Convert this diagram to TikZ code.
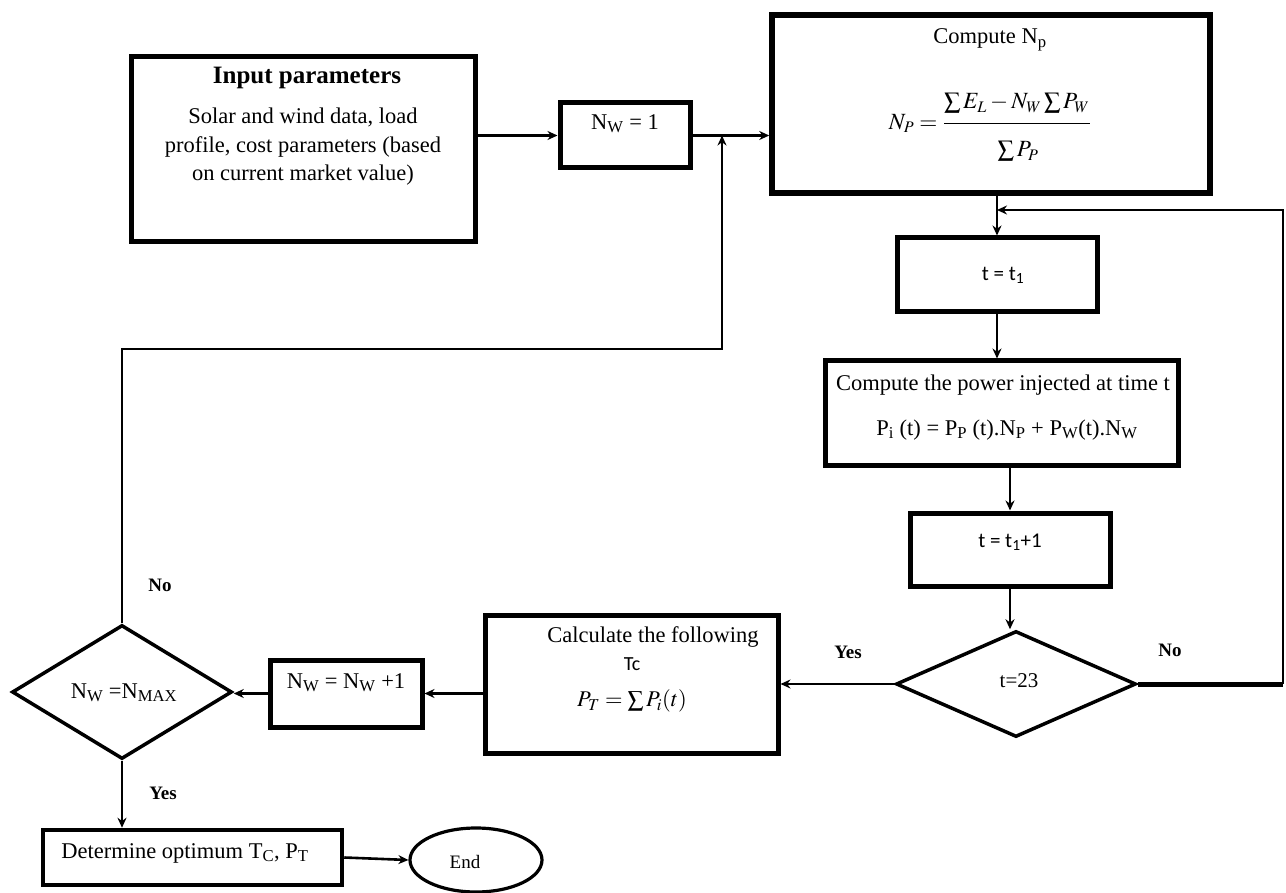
\documentclass[tikz,border=0pt]{standalone}
\usepackage{mathptmx}
\usepackage{graphicx}
\usepackage{fontspec}
\setmainfont{Liberation Serif}
\newfontfamily\calib{Carlito}
\usetikzlibrary{arrows.meta,shapes.geometric}
\begin{document}
\begin{tikzpicture}[x=1pt,y=-1pt,
  box/.style={draw, rectangle, line width=5pt, inner sep=0pt},
  dia/.style={draw, diamond, line width=3.5pt, inner sep=0pt},
  txt/.style={font=\fontsize{22.5}{28.5}\selectfont, inner sep=0pt},
  sans/.style={font=\calib\fontsize{21}{25}\selectfont, inner sep=0pt},
  lbl/.style={font=\bfseries\fontsize{19}{22}\selectfont, inner sep=0pt},
  conn/.style={line width=2.6pt, -{Stealth[length=10pt,width=9pt]}}]
\useasboundingbox (0,0) rectangle (1286,893);

% boxes
\node[box, minimum width=344pt, minimum height=185pt] (inp) at (303,149.5) {};
\node[font=\bfseries\fontsize{25}{30}\selectfont, inner sep=0pt] (inpT) at (307,78) {Input parameters};
\node[txt, align=center] (inpB) at (303,147) {Solar and wind data, load\\profile, cost parameters (based\\on current market value)};

\node[box, minimum width=130pt, minimum height=65pt] (nw1) at (625,135.5) {};
\node[txt] (nw1T) at (625,124) {N\textsubscript{W} = 1};

\node[box, line width=5.5pt, minimum width=438pt, minimum height=178pt] (np) at (991,104) {};
\node[txt] (npT) at (990,40) {Compute N\textsubscript{p}};
\node[inner sep=0pt, font=\fontsize{20.74}{24}\selectfont] (npF) at (990,127) {\scalebox{1.12}{$\displaystyle N_P = \frac{\textstyle\sum E_L - N_W \sum P_W\rule[-10pt]{0pt}{0pt}}{\rule{0pt}{27pt}\textstyle\sum P_P}$}};

\node[box, minimum width=200pt, minimum height=74pt] (t1) at (997,275) {};
\node[sans] (t1T) at (1003,275) {t = t\textsubscript{1}};

\node[box, minimum width=353pt, minimum height=104pt] (pow) at (1001.5,413) {};
\node[txt] (powA) at (1003,385) {Compute the power injected at time t};
\node[txt] (powB) at (1007,430) {P\textsubscript{i} (t) = P\textsubscript{P} (t).N\textsubscript{P} + P\textsubscript{W}(t).N\textsubscript{W}};

\node[box, minimum width=200pt, minimum height=73pt] (t2) at (1010,549.5) {};
\node[sans] (t2T) at (1010,542) {t = t\textsubscript{1}+1};

\node[dia, minimum width=240pt, minimum height=106pt] (d23) at (1016,684) {};
\node[txt, font=\fontsize{21}{25}\selectfont] (d23T) at (1019,681) {t=23};

\node[box, minimum width=293pt, minimum height=138pt] (calc) at (631.5,684) {};
\node[txt] (calcA) at (653,637) {Calculate the following};
\node[sans, font=\calib\fontsize{20}{24}\selectfont] (calcB) at (632,664) {Tc};
\node[inner sep=0pt, font=\fontsize{22.5}{26}\selectfont] (calcC) at (632,701) {$P_T = \sum P_i(t)$};

\node[box, minimum width=152pt, minimum height=67pt] (nw2) at (346,693.5) {};
\node[txt] (nw2T) at (346,683) {N\textsubscript{W} = N\textsubscript{W} +1};

\node[dia, minimum width=220pt, minimum height=134pt] (dmax) at (122,692) {};
\node[txt] (dmaxT) at (124,693) {N\textsubscript{W} =N\textsubscript{MAX}};

\node[box, line width=4.5pt, minimum width=299pt, minimum height=55pt] (det) at (192.5,857.5) {};
\node[txt] (detT) at (185,853) {Determine optimum T\textsubscript{C}, P\textsubscript{T}};

\node[draw, ellipse, line width=3.2pt, minimum width=132pt, minimum height=64pt, inner sep=0pt] (end) at (476,860) {};
\node[font=\fontsize{19}{22}\selectfont, inner sep=0pt] (endT) at (465,862) {End};

% labels
\node[lbl] (noL) at (160,585) {No};
\node[lbl] (yesL) at (163,793) {Yes};
\node[lbl] (yesR) at (848,652) {Yes};
\node[lbl] (noR) at (1170,650) {No};

% connectors
\coordinate (jn) at (722,135.5);
\coordinate (lp) at (722,349);
\coordinate (rc1) at (1283,684);
\coordinate (rc2) at (1283,210);
\coordinate (fb) at (997,210);

\draw[conn] (inp.east |- nw1.west) -- (nw1.west);
\draw[conn] (nw1.east) -- (nw1.east -| np.west);
\draw[conn] (dmax.north) |- (lp) -- (jn);
\draw[conn] (np.south -| t1.north) -- (t1.north);
\draw[line width=5pt] (d23.east) -- (rc1);
\draw[conn] (rc1) -- (rc2) -- (fb);
\draw[conn] (t1.south) -- (t1.south |- pow.north);
\draw[conn] (t2.north |- pow.south) -- (t2.north);
\draw[conn] (t2.south) -- (t2.south |- d23.north);
\draw[conn] (d23.west) -- (calc.east);
\draw[conn] (calc.west |- nw2.east) -- (nw2.east);
\draw[conn] (nw2.west) -- (nw2.west -| dmax.east);
\draw[conn] (dmax.south) -- (dmax.south |- det.north);
\draw[conn] (det.east) -- (end.west);
\end{tikzpicture}
\end{document}
